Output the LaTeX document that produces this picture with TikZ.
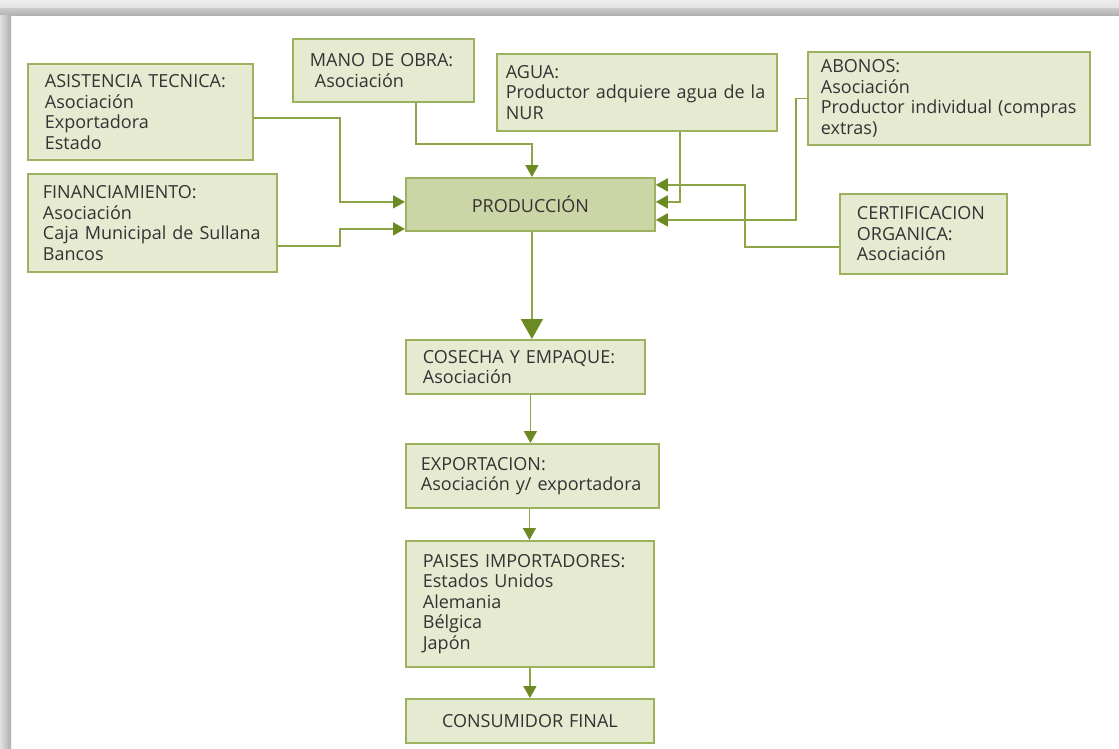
\documentclass[tikz,border=0pt]{standalone}
\usepackage{fontspec}
\setmainfont{Open Sans}
\usetikzlibrary{arrows.meta,positioning,calc}
\definecolor{olive}{HTML}{8DA548}
\definecolor{darkolive}{HTML}{6C8A22}
\definecolor{paper}{HTML}{E5EAD1}
\definecolor{moss}{HTML}{CBD5A6}
\definecolor{frame}{HTML}{9DB25E}
\definecolor{txt}{HTML}{333333}
\colorlet{tip}{darkolive}

\begin{document}
\begin{tikzpicture}[x=1pt,y=-1pt,
    every node/.style={font=\fontsize{18}{20.5}\selectfont,text=txt},
    box/.style={draw=frame,line width=1.8pt,fill=paper,rectangle,anchor=north west,
      align=left,inner xsep=17pt,inner ysep=0pt},
    link/.style={draw=olive,line width=1.6pt,-{Triangle[length=12pt,width=13pt,color=tip]}},
    plain/.style={draw=olive,line width=1.6pt}]
    \useasboundingbox (0,0) rectangle (1119,749);
    % frame of the scan
    \fill[white] (0,0) rectangle (1119,749);
    \shade[top color=black!7,bottom color=black!12] (0,0) rectangle (1119,9);
    \shade[top color=black!22,bottom color=black!32] (0,9) rectangle (1119,16);
    \shade[left color=black!12,right color=black!32] (0,16) rectangle (11,749);
    % inputs
    \node[box,text width=191pt,minimum height=96pt] (asis) at (27,63)
      {ASISTENCIA TECNICA:\\Asociación\\Exportadora\\Estado};
    \node[box,text width=147pt,minimum height=63pt] (mano) at (292,38)
      {MANO DE OBRA:\\\hspace{5pt}Asociación};
    \node[box,inner xsep=9pt,text width=262pt,minimum height=77pt] (agua) at (496,53)
      {AGUA:\\Productor adquiere agua de la\\NUR};
    \node[box,inner xsep=13pt,text width=256pt,minimum height=93pt] (abon) at (807,51)
      {ABONOS:\\Asociación\\Productor individual (compras\\extras)};
    \node[box,inner xsep=15pt,text width=219pt,minimum height=98pt] (fin) at (27,173)
      {FINANCIAMIENTO:\\Asociación\\Caja Municipal de Sullana\\Bancos};
    \node[box,text width=133pt,minimum height=80pt] (cert) at (839,193)
      {CERTIFICACION\\ORGANICA:\\Asociación};
    \node[box,fill=moss,align=center,text width=215pt,minimum height=53pt] (prod) at (405,177)
      {PRODUCCIÓN};
    % chain
    \node[box,text width=205pt,minimum height=54pt] (cos) at (405,339)
      {COSECHA Y EMPAQUE:\\Asociación};
    \node[box,inner xsep=15pt,text width=223pt,minimum height=64pt] (exp) at (405,443)
      {EXPORTACION:\\Asociación y/ exportadora};
    \node[box,text width=214pt,minimum height=126pt] (pai) at (405,540)
      {PAISES IMPORTADORES:\\Estados Unidos\\Alemania\\Bélgica\\Japón};
    \node[box,align=center,text width=214pt,minimum height=44pt] (cons) at (405,698)
      {CONSUMIDOR FINAL};
    % arrows into production
    \draw[link] ([yshift=-6pt]asis.east) -- ++(86,0) |- ([yshift=2.5pt]prod.west);
    \draw[link] ([yshift=-23pt]fin.east) -- ++(62,0) |- ([yshift=-24.5pt]prod.west);
    \draw[link] ([xshift=32.5pt]mano.south) -- ++(0,41) -| ([xshift=1.5pt]prod.north);
    \draw[link] ([xshift=43pt]agua.south) |- ([yshift=2.5pt]prod.east);
    \draw[link] (abon.west) -- ++(-11,0) |- ([yshift=-15.5pt]prod.east);
    \draw[link] ([yshift=-13pt]cert.west) -- ++(-94,0) |- ([yshift=19.5pt]prod.east);
    % down the chain
    \draw[plain,-{Triangle[length=20pt,width=22pt,color=tip]}]
      ([xshift=1.5pt]prod.south) -- ([xshift=1.5pt]prod.south |- cos.north);
    \draw[link] ([xshift=5pt]cos.south) -- ([xshift=5pt]cos.south |- exp.north);
    \draw[link] ([xshift=-3pt]exp.south) -- ([xshift=-3pt]exp.south |- pai.north);
    \draw[link] (pai.south) -- (cons.north);
\end{tikzpicture}
\end{document}
